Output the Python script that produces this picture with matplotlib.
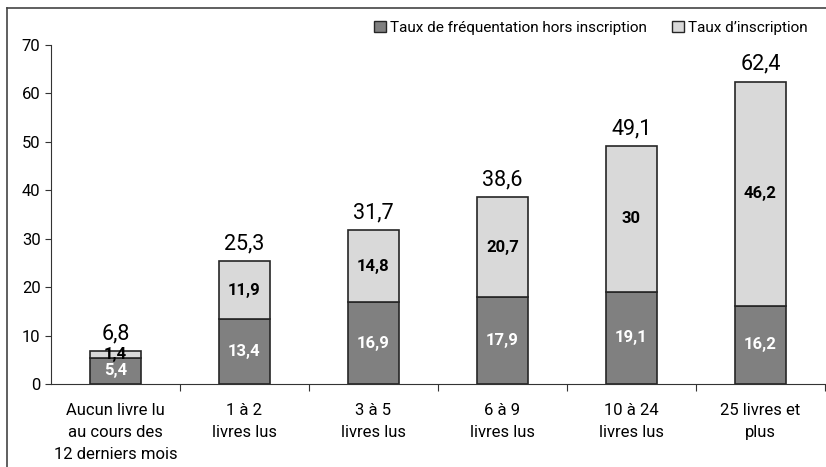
import matplotlib.pyplot as plt
from matplotlib.lines import Line2D
from matplotlib.patches import Patch

categories = ["Aucun livre lu\nau cours des\n12 derniers mois", "1 à 2\nlivres lus",
              "3 à 5\nlivres lus", "6 à 9\nlivres lus", "10 à 24\nlivres lus",
              "25 livres et\nplus"]
frequentation = [5.4, 13.4, 16.9, 17.9, 19.1, 16.2]
inscription = [1.4, 11.9, 14.8, 20.7, 30, 46.2]
totals = [6.8, 25.3, 31.7, 38.6, 49.1, 62.4]
yticks = [0, 10, 20, 30, 40, 50, 60, 70]


def fr(v):
    return ("%g" % v).replace(".", ",")


plt.rcParams["font.family"] = ["Roboto", "DejaVu Sans"]

fig = plt.figure(figsize=(8.26, 4.67), dpi=100)
ax = fig.add_axes([0.0617, 0.1777, 0.937, 0.7259])

dark = "#808080"
light = "#d9d9d9"
edge = "#262626"
x = range(len(categories))
ax.bar(x, frequentation, width=0.4, color=dark, edgecolor=edge, linewidth=1.2)
ax.bar(x, inscription, width=0.4, bottom=frequentation, color=light,
       edgecolor=edge, linewidth=1.2)

for i in x:
    ax.text(i, frequentation[i] / 2, fr(frequentation[i]), ha="center", va="center",
            color="white", fontsize=12, fontweight="bold")
    ax.text(i, frequentation[i] + inscription[i] / 2, fr(inscription[i]),
            ha="center", va="center", color="black", fontsize=12, fontweight="bold")
    ax.annotate(fr(totals[i]), (i, totals[i]), xytext=(0, 5), textcoords="offset points",
                ha="center", va="bottom", fontsize=15.5)

ax.set_xlim(-0.5, 5.5)
ax.set_ylim(0, 70)
ax.set_yticks(yticks)
ax.tick_params(axis="y", labelsize=12, length=4, direction="out", color="#333333")
ax.set_xticks([i + 0.5 for i in x])
ax.set_xticklabels([])
ax.set_xticks(list(x), minor=True)
ax.set_xticklabels(categories, minor=True, fontsize=12, linespacing=1.55)
ax.tick_params(axis="x", which="minor", length=0, pad=14)
ax.tick_params(axis="x", which="major", length=5, direction="out", color="#333333")
ax.spines["top"].set_visible(False)
ax.spines["right"].set_visible(False)
ax.spines["left"].set_color("#333333")
ax.spines["bottom"].set_color("#333333")

handles = [Patch(facecolor=dark, edgecolor=edge, label="Taux de fréquentation hors inscription"),
           Patch(facecolor=light, edgecolor=edge, label="Taux d’inscription")]
fig.legend(handles=handles, loc="upper right", bbox_to_anchor=(0.995, 0.985), ncol=2,
           frameon=False, fontsize=11, handlelength=0.8, handleheight=0.8,
           handletextpad=0.3, columnspacing=1.6)

# cadre autour de la figure (coupe a droite et en bas)
fig.add_artist(Line2D([7 / 826, 7 / 826], [0, 1 - 8 / 467], transform=fig.transFigure,
                      color="#444444", linewidth=1.2))
fig.add_artist(Line2D([7 / 826, 1], [1 - 8 / 467, 1 - 8 / 467], transform=fig.transFigure,
                      color="#444444", linewidth=1.2))

fig.savefig("out.png", dpi=100)
